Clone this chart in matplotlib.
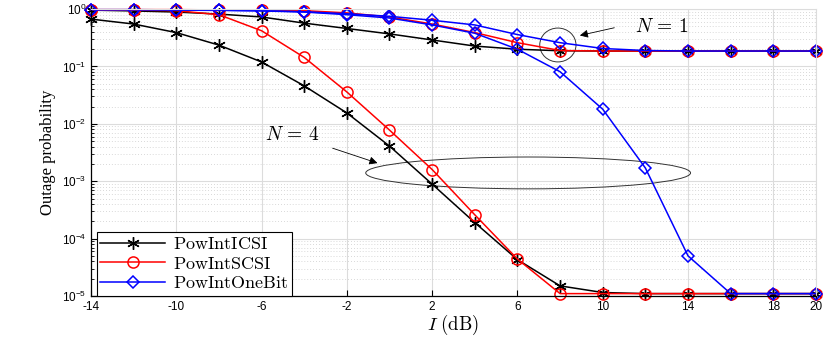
import math
import matplotlib
matplotlib.use("Agg")
import matplotlib.pyplot as plt
from matplotlib.patches import Ellipse
from matplotlib.ticker import FixedLocator, FuncFormatter, LogLocator, NullFormatter

plt.rcParams['mathtext.fontset'] = 'custom'
plt.rcParams['mathtext.rm'] = 'Liberation Sans'
plt.rcParams['mathtext.it'] = 'Liberation Sans:italic'
plt.rcParams['font.family'] = 'Liberation Sans'
plt.rcParams['axes.unicode_minus'] = False

# interference threshold I (dB)
snr_db = [-14, -12, -10, -8, -6, -4, -2, 0, 2, 4, 6, 8, 10, 12, 14, 16, 18, 20]

# N = 4 curves
icsi_n4 = [0.67, 0.55, 0.39, 0.236, 0.12, 0.046, 0.0155, 0.0041, 0.00089, 0.00019,
           4.3e-5, 1.5e-5, 1.15e-5, 1.1e-5, 1.1e-5, 1.1e-5, 1.1e-5, 1.1e-5]
scsi_n4 = [0.97, 0.96, 0.94, 0.8, 0.42, 0.144, 0.036, 0.0078, 0.0016, 0.00026,
           4.4e-5, 1.1e-5, 1.1e-5, 1.1e-5, 1.1e-5, 1.1e-5, 1.1e-5, 1.1e-5]
onebit_n4 = [0.97, 0.97, 0.96, 0.95, 0.93, 0.89, 0.8, 0.7, 0.53, 0.38, 0.2, 0.081,
             0.018, 0.0017, 5e-5, 1.1e-5, 1.1e-5, 1.1e-5]

# N = 1 curves
icsi_n1 = [0.96, 0.93, 0.89, 0.82, 0.73, 0.57, 0.46, 0.37, 0.29, 0.227, 0.2, 0.188,
           0.186, 0.186, 0.186, 0.186, 0.186, 0.186]
scsi_n1 = [0.98, 0.98, 0.98, 0.97, 0.96, 0.94, 0.86, 0.73, 0.55, 0.39, 0.26, 0.19,
           0.186, 0.186, 0.186, 0.186, 0.186, 0.186]
onebit_n1 = [0.98, 0.98, 0.97, 0.96, 0.94, 0.9, 0.83, 0.75, 0.64, 0.53, 0.36, 0.26,
             0.206, 0.19, 0.186, 0.186, 0.186, 0.186]

xticks = [-14, -10, -6, -2, 2, 6, 10, 14, 18, 20]

fig = plt.figure(figsize=(8.3, 3.38), dpi=100)
ax = fig.add_axes([0.1096, 0.1243, 0.8735, 0.8487])

star = dict(color='black', marker=(6, 2, 0), markersize=9, markeredgewidth=1.0, lw=1.1, clip_on=False)
circ = dict(color='red', marker='o', markersize=8, markerfacecolor='none', markeredgewidth=1.1, lw=1.1, clip_on=False)
diam = dict(color='blue', marker='D', markersize=6.5, markerfacecolor='none', markeredgewidth=1.1, lw=1.1, clip_on=False)

ax.plot(snr_db, icsi_n1, **star)
ax.plot(snr_db, scsi_n1, **circ)
ax.plot(snr_db, onebit_n1, **diam)
l1, = ax.plot(snr_db, icsi_n4, **star)
l2, = ax.plot(snr_db, scsi_n4, **circ)
l3, = ax.plot(snr_db, onebit_n4, **diam)

ax.set_yscale('log')
ax.set_ylim(1e-5, 1)
ax.set_xlim(-14, 20)
ax.xaxis.set_major_locator(FixedLocator(xticks))
ax.yaxis.set_major_locator(LogLocator(base=10, numticks=10))
ax.yaxis.set_minor_locator(LogLocator(base=10, subs=range(2, 10), numticks=20))
ax.yaxis.set_minor_formatter(NullFormatter())
ax.yaxis.set_major_formatter(FuncFormatter(lambda v, p: r'10$^{%d}$' % round(math.log10(v))))
ax.tick_params(axis='both', which='both', direction='in', labelsize=8.5)
ax.tick_params(axis='y', which='major', length=4)
ax.tick_params(axis='y', which='minor', length=2)
ax.tick_params(axis='x', length=4)

ax.grid(True, which='major', color='#dcdcdc', lw=0.8)
ax.grid(True, which='minor', axis='y', color='#cccccc', lw=0.6, linestyle=(0, (1, 2.5)))
ax.set_axisbelow(True)
ax.spines['top'].set_color('#dcdcdc')
ax.spines['right'].set_color('#dcdcdc')
ax.spines['left'].set_linewidth(0.9)
ax.spines['bottom'].set_linewidth(0.9)

ax.set_xlabel(r'$I\ \mathrm{(dB)}$', fontsize=13.5, math_fontfamily='cm', labelpad=0)
ax.set_ylabel('Outage probability', fontsize=12, family='Liberation Serif', labelpad=4)

leg = ax.legend([l1, l2, l3],
                [r'$\mathrm{PowIntICSI}$', r'$\mathrm{PowIntSCSI}$', r'$\mathrm{PowIntOneBit}$'],
                loc='lower left', bbox_to_anchor=(0.008, 0.0), fancybox=False, edgecolor='black',
                framealpha=1, handlelength=3.6, borderpad=0.2, labelspacing=0.15,
                handletextpad=0.4, borderaxespad=0.0,
                prop=dict(size=13, math_fontfamily='cm'))
leg.get_frame().set_linewidth(0.8)

# annotations
ax.add_patch(Ellipse((0.603, 0.429), 0.448, 0.111, transform=ax.transAxes,
                     fill=False, edgecolor='#333333', lw=0.7))
ax.add_patch(Ellipse((0.644, 0.875), 0.05, 0.118, transform=ax.transAxes,
                     fill=False, edgecolor='#333333', lw=0.7))
ax.annotate('', xy=(-0.44, 0.0020), xytext=(-2.79, 0.0039),
            arrowprops=dict(arrowstyle='-|>', color='black', lw=0.6, mutation_scale=12))
ax.text(-4.57, 0.0064, r'$N\,=\,4$', fontsize=14, math_fontfamily='cm', ha='center', va='center')
ax.annotate('', xy=(8.8, 0.339), xytext=(10.67, 0.485),
            arrowprops=dict(arrowstyle='-|>', color='black', lw=0.6, mutation_scale=12))
ax.text(12.78, 0.485, r'$N\,=\,1$', fontsize=14, math_fontfamily='cm', ha='center', va='center')

fig.savefig('out.png', dpi=100)
